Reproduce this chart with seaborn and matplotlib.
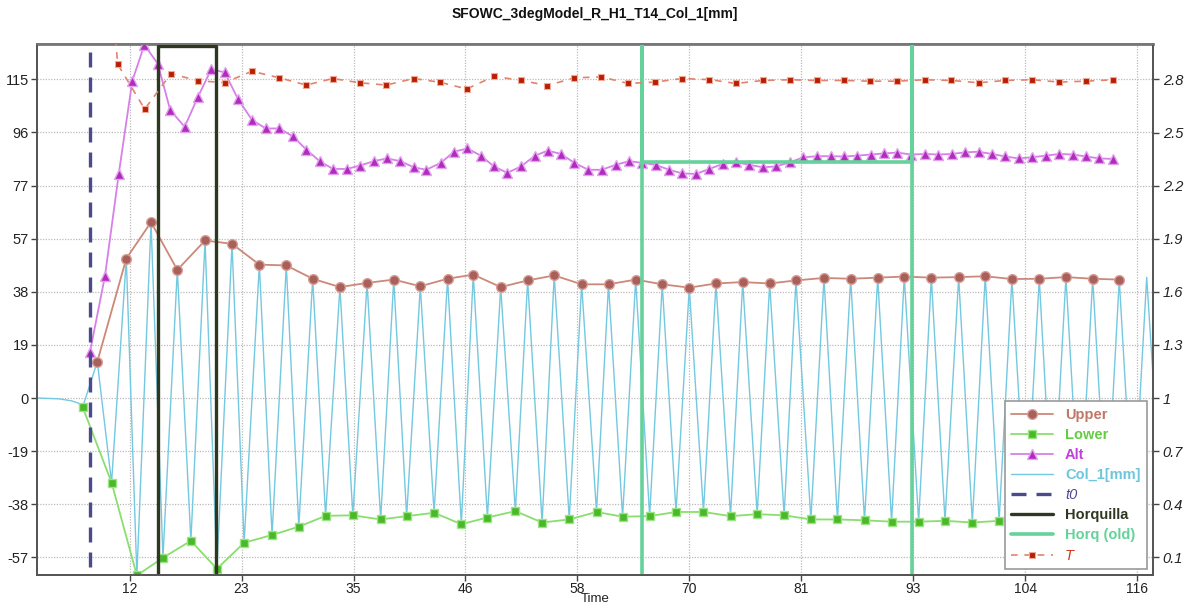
import matplotlib
matplotlib.use("Agg")
import matplotlib.pyplot as plt
import seaborn as sns

# ---------------- data ----------------
title = "SFOWC_3degModel_R_H1_T14_Col_1[mm]"

upper_t = [8.48, 11.47, 14.02, 16.73, 19.59, 22.37, 25.19, 27.97, 30.69, 33.5, 36.3, 39.05,
           41.79, 44.6, 47.25, 50.08, 52.86, 55.6, 58.43, 61.2, 64.0, 66.74, 69.53, 72.28,
           75.04, 77.82, 80.53, 83.42, 86.17, 88.96, 91.7, 94.49, 97.31, 100.05, 102.8,
           105.62, 108.37, 111.13, 113.87]
upper_v = [13.1, 50.3, 63.4, 46.2, 56.8, 55.6, 48.1, 47.8, 43.0, 40.0, 41.5, 42.7, 40.3,
           43.0, 44.5, 40.0, 42.4, 44.2, 41.0, 41.0, 42.7, 41.0, 39.8, 41.3, 41.8, 41.3,
           42.4, 43.3, 43.0, 43.4, 43.8, 43.4, 43.6, 43.9, 42.9, 43.0, 43.6, 43.0, 42.7]

lower_t = [6.97, 9.95, 12.56, 15.25, 18.13, 20.81, 23.62, 26.5, 29.26, 32.02, 34.83, 37.7,
           40.38, 43.21, 46.02, 48.71, 51.59, 54.35, 57.15, 59.96, 62.65, 65.44, 68.16,
           70.99, 73.78, 76.53, 79.31, 82.07, 84.81, 87.6, 90.39, 93.18, 95.9, 98.72,
           101.48, 104.25, 107.0, 109.8, 112.55]
lower_v = [-3.3, -30.5, -64.0, -57.6, -51.5, -61.6, -52.2, -49.4, -46.4, -42.5, -42.3, -43.8,
           -42.6, -41.4, -45.5, -43.1, -40.8, -44.9, -43.8, -41.1, -42.8, -42.6, -41.1,
           -41.1, -42.6, -41.9, -42.3, -43.8, -43.8, -44.1, -44.6, -44.6, -44.3, -44.9,
           -44.3, -43.6, -44.4, -44.1, -43.4]

alt_t = [7.73, 9.27, 10.69, 12.09, 13.33, 14.71, 16.0, 17.49, 18.86, 20.24, 21.62, 22.99,
         24.43, 25.85, 27.25, 28.63, 30.03, 31.41, 32.79, 34.23, 35.54, 36.98, 38.35, 39.73,
         41.11, 42.4, 43.9, 45.26, 46.64, 48.02, 49.39, 50.76, 52.17, 53.62, 54.93, 56.3,
         57.67, 59.11, 60.5, 61.94, 63.31, 64.68, 66.06, 67.44, 68.8, 70.22, 71.59, 72.97,
         74.35, 75.72, 77.1, 78.47, 79.91, 81.29, 82.67, 84.11, 85.48, 86.85, 88.24, 89.61,
         90.98, 92.39, 93.83, 95.21, 96.59, 97.96, 99.37, 100.74, 102.12, 103.5, 104.87,
         106.28, 107.69, 109.07, 110.44, 111.81, 113.2]
alt_v = [16.7, 44.0, 80.8, 114.4, 127.3, 120.6, 103.8, 97.8, 108.6, 118.6, 117.4, 107.8,
         100.3, 97.2, 97.2, 94.4, 89.6, 85.4, 82.6, 82.6, 83.8, 85.4, 86.4, 85.4, 83.2, 82.3,
         84.8, 88.8, 90.0, 87.4, 83.5, 81.2, 83.5, 87.4, 89.2, 88.0, 84.8, 82.3, 82.3, 84.1,
         85.4, 84.8, 84.1, 82.3, 81.0, 80.8, 82.6, 84.4, 85.0, 84.1, 83.2, 83.5, 85.0, 86.8,
         87.2, 87.2, 87.1, 87.4, 87.8, 88.2, 88.5, 87.8, 88.0, 87.8, 88.0, 88.6, 88.8, 88.0,
         87.1, 86.4, 86.8, 87.4, 88.0, 87.8, 87.1, 86.4, 86.2]

T_t = [7.73, 10.58, 13.37, 16.08, 18.86, 21.62, 24.43, 27.25, 30.03, 32.76, 35.54, 38.28,
       41.11, 43.82, 46.57, 49.39, 52.14, 54.89, 57.67, 60.45, 63.24, 66.0, 68.8, 71.6,
       74.35, 77.1, 79.9, 82.67, 85.48, 88.2, 90.98, 93.8, 96.55, 99.37, 102.1, 104.9,
       107.69, 110.44, 113.2]
T_v = [4.8, 2.886, 2.632, 2.833, 2.792, 2.782, 2.846, 2.809, 2.768, 2.805, 2.781, 2.768,
       2.805, 2.784, 2.746, 2.817, 2.795, 2.765, 2.809, 2.814, 2.777, 2.785, 2.805, 2.799,
       2.777, 2.794, 2.798, 2.794, 2.794, 2.790, 2.790, 2.798, 2.794, 2.781, 2.794, 2.798,
       2.785, 2.790, 2.798]

# Col_1 signal: quiet start, then the read extremes, then the tail after the last marker
col_head_t = [2.3, 4.5, 5.8, 6.5]
col_head_v = [0.0, -0.3, -1.0, -1.8]
col_tail_t = [115.3, 116.7, 117.35]
col_tail_v = [-44.0, 43.5, 8.0]

t0_time = 7.7
horq_t = [14.71, 14.71, 20.75, 20.75]
horq_v = [-70.0, 126.8, 126.8, -70.0]
horq_old_t = [64.62, 64.62, 64.62, 92.45, 92.45, 92.45]
horq_old_v = [-70.0, 135.0, 85.0, 85.0, 135.0, -70.0]

x_ticks = [11.8 + 11.55 * k for k in range(10)]
x_labels = ["12", "23", "35", "46", "58", "70", "81", "93", "104", "116"]
y_ticks = [19.15 * k for k in range(-3, 7)]
y_labels = ["-57", "-38", "-19", "0", "19", "38", "57", "77", "96", "115"]
r_ticks = [0.1, 0.4, 0.7, 1.0, 1.3, 1.6, 1.9, 2.2, 2.5, 2.8]
r_labels = ["0.1", "0.4", "0.7", "1", "1.3", "1.6", "1.9", "2.2", "2.5", "2.8"]

# assemble Col_1 from the read points
col_t = list(col_head_t)
col_v = list(col_head_v)
for lt, lv, ut, uv in zip(lower_t, lower_v, upper_t, upper_v):
    col_t += [lt, ut]
    col_v += [lv, uv]
col_t += col_tail_t
col_v += col_tail_v

# ---------------- style ----------------
sns.set_theme(style="white")
plt.rcParams['font.family'] = ['Liberation Sans', 'DejaVu Sans']

C_COL = '#74C8E0'
C_UP_L, C_UP_F, C_UP_E = '#CC8878', '#A8605A', '#D8A098'
C_LO_L, C_LO_F, C_LO_E = '#8ADE6E', '#4AB828', '#9BE584'
C_AL_L, C_AL_F, C_AL_E = '#D680E8', '#B02CBC', '#E2A0EE'
C_T_L, C_T_F, C_T_E = '#E08470', '#B81E00', '#F0A898'
C_T0 = '#4B4A8C'
C_HQ = '#2E3820'
C_HQO = '#64D29A'

W, H = 1194, 608
fig = plt.figure(figsize=(W / 100, H / 100), dpi=100)
ax = fig.add_axes([37 / W, 1 - 575 / H, (1153 - 37) / W, (575 - 44) / H])
ax2 = ax.twinx()

common = dict(estimator=None, sort=False, legend=False, errorbar=None)

sns.lineplot(x=col_t, y=col_v, ax=ax, color=C_COL, linewidth=1.0, label='Col_1[mm]',
             zorder=2, **common)
sns.lineplot(x=upper_t, y=upper_v, ax=ax, color=C_UP_L, linewidth=1.3, marker='o',
             markersize=7, markerfacecolor=C_UP_F, markeredgecolor=C_UP_E,
             markeredgewidth=1.0, label='Upper', zorder=3, **common)
sns.lineplot(x=lower_t, y=lower_v, ax=ax, color=C_LO_L, linewidth=1.3, marker='s',
             markersize=6, markerfacecolor=C_LO_F, markeredgecolor=C_LO_E,
             markeredgewidth=1.0, label='Lower', zorder=3, **common)
sns.lineplot(x=alt_t, y=alt_v, ax=ax, color=C_AL_L, linewidth=1.3, marker='^',
             markersize=7, markerfacecolor=C_AL_F, markeredgecolor=C_AL_E,
             markeredgewidth=1.0, label='Alt', zorder=3, **common)
sns.lineplot(x=[t0_time, t0_time], y=[-70.0, 135.0], ax=ax, color=C_T0, linewidth=2.4,
             linestyle=(0, (4.5, 3)), label='t0', zorder=4, **common)
sns.lineplot(x=horq_t, y=horq_v, ax=ax, color=C_HQ, linewidth=2.4, label='Horquilla',
             zorder=4, **common)
sns.lineplot(x=horq_old_t, y=horq_old_v, ax=ax, color=C_HQO, linewidth=2.6,
             label='Horq (old)', zorder=4, **common)
sns.lineplot(x=T_t, y=T_v, ax=ax2, color=C_T_L, linewidth=1.2, linestyle=(0, (4, 4)),
             marker='s', markersize=5, markerfacecolor=C_T_F, markeredgecolor=C_T_E,
             markeredgewidth=0.8, label='T', zorder=3, **common)

# axes limits / ticks
ax.set_xlim(2.26, 117.35)
ax.set_ylim(-63.83, 127.66)
ax2.set_ylim(0.0, 3.0)
ax.set_xticks(x_ticks)
ax.set_xticklabels(x_labels)
ax.set_yticks(y_ticks)
ax.set_yticklabels(y_labels)
ax2.set_yticks(r_ticks)
ax2.set_yticklabels(r_labels)

ax.tick_params(axis='both', which='major', direction='out', length=4, width=1,
               colors='#444444', labelcolor='#222222', labelsize=10.5, pad=2,
               bottom=True, left=True)
ax.tick_params(axis='x', pad=1, labelsize=10)
ax2.tick_params(axis='y', direction='out', length=4, width=1, colors='#444444',
                labelcolor='#222222', labelsize=10.5, pad=3, right=True)
for lbl in ax2.get_yticklabels():
    lbl.set_fontstyle('italic')

ax.grid(True, which='major', linestyle=(0, (1, 1.2)), color='#BBBBBB', linewidth=0.9)
ax2.grid(False)
for a in (ax, ax2):
    for s in a.spines.values():
        s.set_color('#555555')
        s.set_linewidth(1.3)
ax.spines['top'].set_color('#777777')
ax2.spines['top'].set_color('#777777')
ax.spines['top'].set_linewidth(2.0)

ax.set_xlabel('Time', fontsize=9.5, labelpad=-1.5, color='#222222')
ax.xaxis.set_label_coords(0.5, -0.034)
ax.xaxis.label.set_verticalalignment('top')
ax.set_ylabel('')
ax2.set_ylabel('')
ax.set_title(title, fontsize=10, fontweight='bold', pad=19, color='#111111')

# legend
h1, l1 = ax.get_legend_handles_labels()
h2, l2 = ax2.get_legend_handles_labels()
hmap = dict(zip(l1 + l2, h1 + h2))
order = ['Upper', 'Lower', 'Alt', 'Col_1[mm]', 't0', 'Horquilla', 'Horq (old)', 'T']
leg = ax2.legend([hmap[k] for k in order], order, loc='lower right', frameon=True,
                 fancybox=False, framealpha=1.0, edgecolor='#999999', fontsize=10.5,
                 handlelength=2.9, labelspacing=0.42, borderaxespad=0.4,
                 handletextpad=0.8, borderpad=0.45)
leg.get_frame().set_linewidth(1.2)
leg.set_zorder(10)
txt_col = {'Upper': '#C07868', 'Lower': '#66CC44', 'Alt': '#C040D8',
           'Col_1[mm]': '#6EC6DC', 't0': C_T0, 'Horquilla': C_HQ,
           'Horq (old)': C_HQO, 'T': '#D03A1A'}
for txt in leg.get_texts():
    k = txt.get_text()
    txt.set_color(txt_col[k])
    if k in ('t0', 'T'):
        txt.set_fontstyle('italic')
    else:
        txt.set_fontweight('bold')

fig.savefig('out.png', dpi=100)
